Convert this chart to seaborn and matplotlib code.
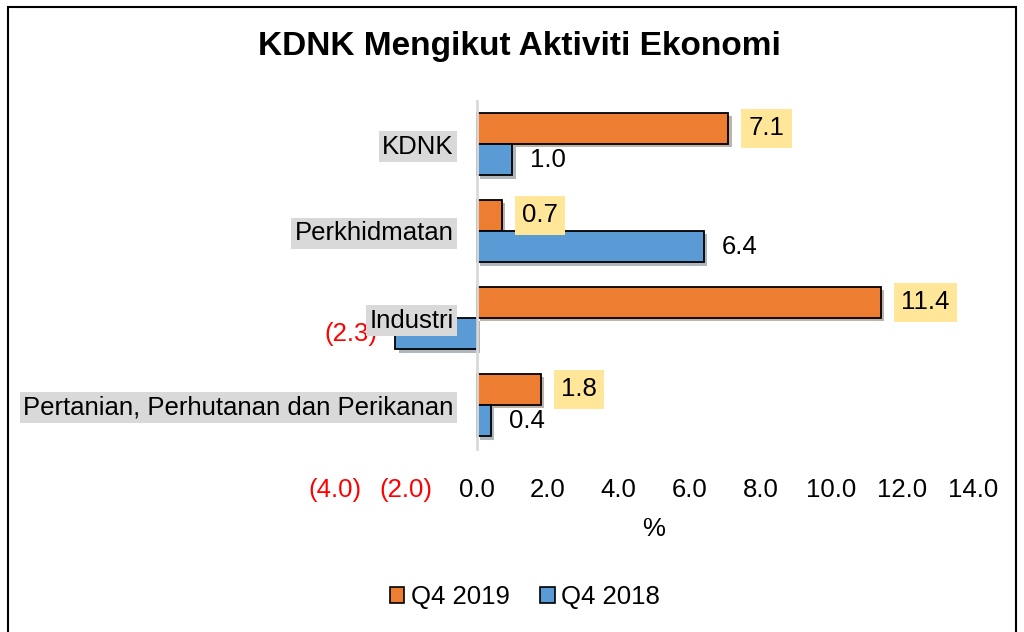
import numpy as np
import pandas as pd
import matplotlib
matplotlib.use("Agg")
import matplotlib.pyplot as plt
import seaborn as sns
from matplotlib.patches import Rectangle, Patch
import matplotlib.patheffects as pe

# ---- data ----
categories = ["KDNK", "Perkhidmatan", "Industri", "Pertanian, Perhutanan dan Perikanan"]
series_names = ["Q4 2019", "Q4 2018"]
q4_2019 = [7.1, 0.7, 11.4, 1.8]
q4_2018 = [1.0, 6.4, -2.3, 0.4]
x_ticks = [-4, -2, 0, 2, 4, 6, 8, 10, 12, 14]
title = "KDNK Mengikut Aktiviti Ekonomi"
x_label = "%"

sns.set_theme(style="white")
plt.rcParams["font.family"] = ["Liberation Sans", "DejaVu Sans"]
plt.rcParams.update({"text.color": "black", "axes.labelcolor": "black",
                     "xtick.color": "black", "ytick.color": "black"})
FS = 18.5

df = pd.DataFrame({
    "Kategori": categories * 2,
    "Siri": [series_names[0]] * len(categories) + [series_names[1]] * len(categories),
    "Nilai": q4_2019 + q4_2018,
})

colors = {"Q4 2019": "#ED7D31", "Q4 2018": "#5B9BD5"}

fig = plt.figure(figsize=(10.24, 6.32), dpi=100)
ax = fig.add_axes([335 / 1024, 1 - 448.5 / 632, (973 - 335) / 1024, (448.5 - 100.5) / 632])

sns.barplot(data=df, y="Kategori", x="Nilai", hue="Siri", hue_order=series_names,
            order=categories, palette=colors, orient="h", width=0.72,
            edgecolor="black", linewidth=1.3, saturation=1, ax=ax, legend=False)

ax.set_xlim(-4, 14)
ax.set_axisbelow(False)

# bar shadows
for cont in ax.containers:
    for bar in cont:
        bar.set_path_effects([pe.SimplePatchShadow(offset=(2.5, -2.5), alpha=0.35), pe.Normal()])

# data labels
for cont, vals, name in zip(ax.containers, [q4_2019, q4_2018], series_names):
    for bar, v in zip(cont, vals):
        y = bar.get_y() + bar.get_height() / 2
        if name == "Q4 2019":
            ax.annotate(f"{v:.1f}", xy=(v, y), xytext=(14.5, 0), textcoords="offset points",
                        ha="left", va="center", fontsize=FS, color="black", zorder=4,
                        bbox=dict(boxstyle="square,pad=0.28", fc="#FFE699", ec="none"))
        else:
            if v >= 0:
                ax.annotate(f"{v:.1f}", xy=(v, y), xytext=(13, 0), textcoords="offset points",
                            ha="left", va="center", fontsize=FS, color="black", zorder=4)
            else:
                ax.annotate(f"({abs(v):.1f})", xy=(v, y), xytext=(-13, 0), textcoords="offset points",
                            ha="right", va="center", fontsize=FS, color="red", zorder=4)

# x axis ticks
ax.set_xticks(x_ticks)
ax.set_xticklabels([f"{t:.1f}" if t >= 0 else f"({abs(t):.1f})" for t in x_ticks], fontsize=FS)
for lbl, t in zip(ax.get_xticklabels(), x_ticks):
    lbl.set_color("red" if t < 0 else "black")
ax.tick_params(axis="x", length=0, pad=21)
ax.set_xlabel(x_label, fontsize=FS, labelpad=11, color="black")
ax.set_ylabel("")

# y axis at zero
ax.spines["left"].set_position(("data", 0))
ax.spines["left"].set_color("#d9d9d9")
ax.spines["left"].set_linewidth(2)
for s in ["top", "right", "bottom"]:
    ax.spines[s].set_visible(False)
ax.tick_params(axis="y", length=0, pad=16.5, labelsize=FS)
for lbl in ax.get_yticklabels():
    lbl.set_color("black")
    lbl.set_bbox(dict(boxstyle="square,pad=0.14", fc="#d9d9d9", ec="none"))
ax.yaxis.set_zorder(6)

# title
fig.text(519 / 1024, 1 - 47 / 632, title, ha="center", va="center",
         fontsize=24, fontweight="bold", color="black")

# legend
handles = [Patch(facecolor=colors[n], edgecolor="black", linewidth=1.2) for n in series_names]
fig.legend(handles, series_names, loc="center", bbox_to_anchor=(525 / 1024, 1 - 597 / 632),
           ncol=2, frameon=False, fontsize=FS, handlelength=0.55, handleheight=0.55,
           handletextpad=0.25, columnspacing=1.2, labelcolor="black")

# outer frame
fig.add_artist(Rectangle((8 / 1024, -0.05), (1016 - 8) / 1024, (1 - 7 / 632) + 0.05,
                         transform=fig.transFigure, fill=False, ec="black", lw=1.5))

fig.savefig("out.png", dpi=100)
